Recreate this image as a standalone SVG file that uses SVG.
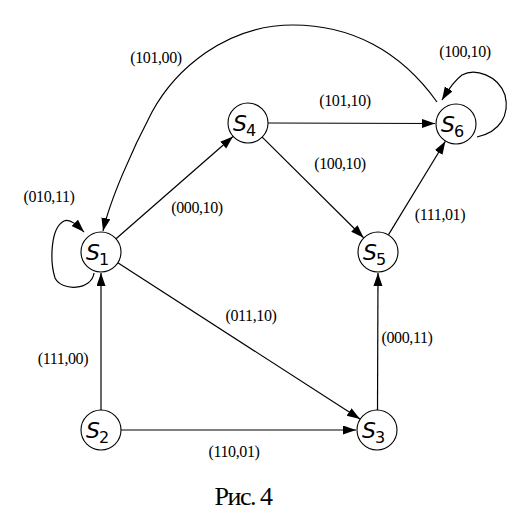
<svg xmlns="http://www.w3.org/2000/svg" width="512" height="512" viewBox="0 0 512 512">
<style>
.n{fill:#fff;stroke:#000;stroke-width:1.1}
.e{fill:none;stroke:#000;stroke-width:1.2;marker-end:url(#ah)}
.s{font-family:"DejaVu Sans",sans-serif;font-style:oblique;font-size:22px;fill:#000}
.sub{font-family:"DejaVu Sans",sans-serif;font-size:16px;fill:#000}
.l{font-family:"Liberation Serif",serif;font-size:16px;fill:#000;text-anchor:middle;letter-spacing:-0.4px}
.cap{font-family:"Liberation Serif",serif;font-size:26px;fill:#000;text-anchor:middle;letter-spacing:-1.5px}
</style>
<defs>
<marker id="ah" markerUnits="userSpaceOnUse" markerWidth="14" markerHeight="10" refX="13" refY="4.5" orient="auto">
<path d="M0,0 L13,4.5 L0,9 z" fill="#000"/>
</marker>
</defs>
<g id="connectors">
<path class="e" d="M101,410 L101,273"/>
<path class="e" d="M121,430 L356,430"/>
<path class="e" d="M117.8,262.8 L360,419"/>
<path class="e" d="M377.5,410 L378,273"/>
<path class="e" d="M388.4,234.9 L445.4,141.3"/>
<path class="e" d="M116,238.8 L233,136.5"/>
<path class="e" d="M268,123 L435,123.5"/>
<path class="e" d="M262.2,137.1 L363.6,237.7"/>
<path class="e" d="M437,102 C400,50 350,25 293,25 C225,25 175,70 152,112 C132,150 110,200 103,231"/>
<path class="e" d="M94,273 C92,290 62,292 55,278 C50,262 50,228 64,221 C70,218 78,226 84,232"/>
<path class="e" d="M477,137 C500,132 510,115 505,95 C498,75 475,68 462,75 C455,80 448,90 442,100"/>
</g>
<g id="labels">
<text class="l" x="156" y="63">(101,00)</text>
<text class="l" x="465" y="57">(100,10)</text>
<text class="l" x="345" y="106">(101,10)</text>
<text class="l" x="340" y="169">(100,10)</text>
<text class="l" x="49" y="202">(010,11)</text>
<text class="l" x="197" y="213">(000,10)</text>
<text class="l" x="440" y="220">(111,01)</text>
<text class="l" x="251" y="321">(011,10)</text>
<text class="l" x="63" y="364">(111,00)</text>
<text class="l" x="407" y="343">(000,11)</text>
<text class="l" x="234" y="457">(110,01)</text>
<text class="cap" x="243" y="505">Рис. 4</text>
</g>
<g id="S1"><circle class="n" cx="101" cy="252" r="20"/><text class="s" x="86" y="260">S</text><text class="sub" x="99" y="265">1</text></g>
<g id="S2"><circle class="n" cx="101" cy="430" r="20"/><text class="s" x="86" y="438">S</text><text class="sub" x="99" y="443">2</text></g>
<g id="S3"><circle class="n" cx="377" cy="430" r="20"/><text class="s" x="362" y="438">S</text><text class="sub" x="375" y="443">3</text></g>
<g id="S4"><circle class="n" cx="248" cy="123" r="20"/><text class="s" x="233" y="131">S</text><text class="sub" x="246" y="136">4</text></g>
<g id="S5"><circle class="n" cx="378" cy="252" r="20"/><text class="s" x="363" y="260">S</text><text class="sub" x="376" y="265">5</text></g>
<g id="S6"><circle class="n" cx="456" cy="124" r="20"/><text class="s" x="441" y="132">S</text><text class="sub" x="454" y="137">6</text></g>
</svg>
